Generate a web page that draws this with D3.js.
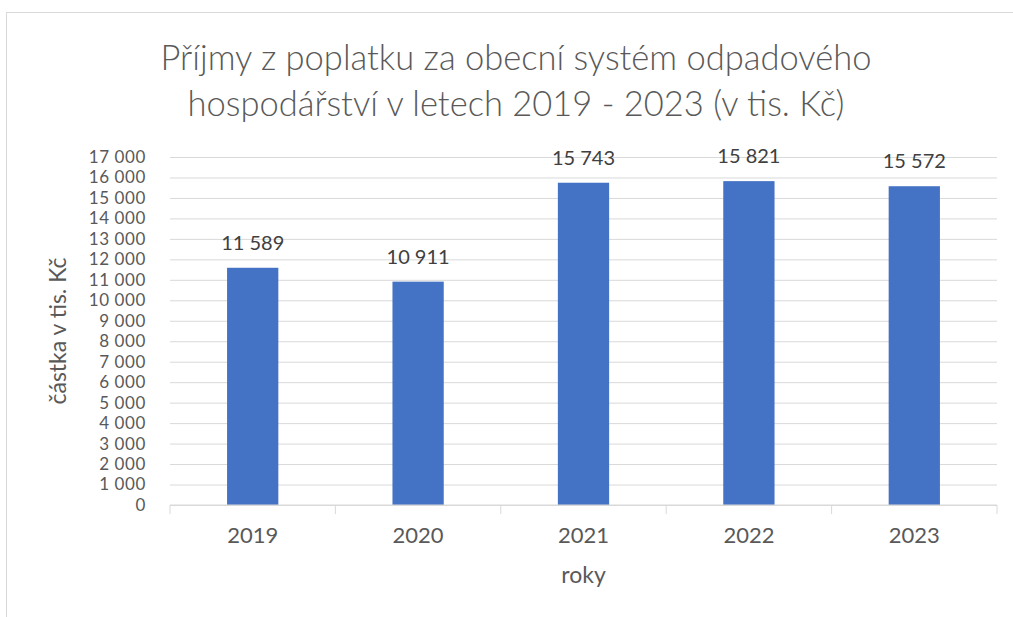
<!DOCTYPE html>
<html>
<head>
<meta charset="utf-8">
<script src="https://cdn.jsdelivr.net/npm/d3@7"></script>
<style>
  html, body { margin: 0; padding: 0; background: #fff; }
  text { font-family: Lato, "Open Sans", sans-serif; fill: #595959; }
</style>
</head>
<body>
<div id="chart"></div>
<script>
// values
const years = ["2019", "2020", "2021", "2022", "2023"];
const amounts = [11589, 10911, 15743, 15821, 15572];
const yTicks = d3.range(0, 17001, 1000);
const titleLines = [
  "Příjmy z poplatku za obecní systém odpadového",
  "hospodářství v letech 2019 - 2023 (v tis. Kč)",
];

const W = 1013, H = 617;
const margin = { top: 157, right: 16, bottom: 112, left: 170 };
const width = W - margin.left - margin.right;
const height = H - margin.top - margin.bottom;

// czech style thousands: "11 589"
const fmt = (v) => d3.format(",")(v).replace(/,/g, " ");

const svg = d3.select("#chart").append("svg")
  .attr("width", W)
  .attr("height", H);

// chart frame, cut off at the right and bottom like the picture
svg.append("rect")
  .attr("x", 6.5).attr("y", 12.5)
  .attr("width", W + 20).attr("height", H + 20)
  .attr("fill", "none")
  .attr("stroke", "#d9d9d9");

// title
svg.append("g")
  .selectAll("text")
  .data(titleLines)
  .join("text")
  .attr("x", 516)
  .attr("y", (d, i) => 70 + i * 46)
  .attr("text-anchor", "middle")
  .style("font-size", "34.5px")
  .style("font-weight", 300)
  .text((d) => d);

const g = svg.append("g")
  .attr("transform", `translate(${margin.left},${margin.top})`);

const x = d3.scaleBand().domain(years).range([0, width]).paddingInner(0.69).paddingOuter(0.345);
const y = d3.scaleLinear().domain([0, 17000]).range([height, 0]);

// gridlines + y labels (17px keeps the stacked labels from touching)
g.append("g")
  .call(d3.axisLeft(y).tickValues(yTicks).tickSize(-width).tickFormat(fmt))
  .call((a) => a.select(".domain").remove())
  .call((a) => a.selectAll(".tick line").attr("stroke", "#d9d9d9").attr("stroke-width", 1))
  .call((a) => a.selectAll(".tick text")
    .attr("x", -24)
    .style("font-size", "17px")
    .style("letter-spacing", "0.6px")
    .style("fill", "#595959"));

// bars
g.append("g")
  .selectAll("rect")
  .data(amounts)
  .join("rect")
  .attr("x", (d, i) => x(years[i]))
  .attr("y", (d) => y(d))
  .attr("width", x.bandwidth())
  .attr("height", (d) => height - y(d))
  .attr("fill", "#4472c4");

// value labels
g.append("g")
  .selectAll("text")
  .data(amounts)
  .join("text")
  .attr("x", (d, i) => x(years[i]) + x.bandwidth() / 2)
  .attr("y", (d) => y(d) - 18)
  .attr("text-anchor", "middle")
  .style("font-size", "20px")
  .style("fill", "#404040")
  .text(fmt);

// x axis with category dividers
const step = width / years.length;
const xAxis = g.append("g").attr("transform", `translate(0,${height})`);
xAxis.append("line")
  .attr("x1", 0).attr("x2", width)
  .attr("stroke", "#d9d9d9");
xAxis.selectAll("line.div")
  .data(d3.range(years.length + 1))
  .join("line")
  .attr("class", "div")
  .attr("x1", (d) => d * step).attr("x2", (d) => d * step)
  .attr("y1", 0).attr("y2", 9)
  .attr("stroke", "#d9d9d9");
xAxis.selectAll("text")
  .data(years)
  .join("text")
  .attr("x", (d) => x(d) + x.bandwidth() / 2)
  .attr("y", 38)
  .attr("text-anchor", "middle")
  .style("font-size", "22px")
  .text((d) => d);

// axis titles
svg.append("text")
  .attr("x", margin.left + width / 2)
  .attr("y", 583)
  .attr("text-anchor", "middle")
  .style("font-size", "23px")
  .text("roky");

svg.append("text")
  .attr("transform", "translate(66,331) rotate(-90)")
  .attr("text-anchor", "middle")
  .style("font-size", "23px")
  .text("částka v tis. Kč");
</script>
</body>
</html>
